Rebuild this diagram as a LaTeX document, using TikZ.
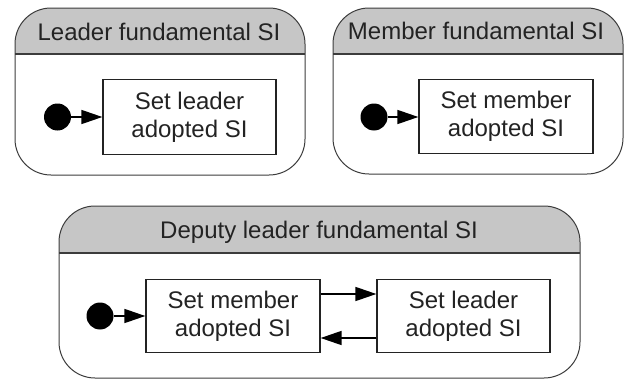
\documentclass[tikz,border=0pt]{standalone}
\usepackage{fontspec}
\setmainfont{Liberation Sans}
\usetikzlibrary{arrows.meta}
\definecolor{hdr}{RGB}{198,198,198}
\definecolor{edge}{RGB}{60,60,60}
\definecolor{ink}{RGB}{35,35,35}
\tikzset{
  container/.style={draw=edge, line width=1pt, rounded corners=36pt, inner sep=0pt},
  header/.style={path picture={\fill[hdr, sharp corners] (path picture bounding box.north west) rectangle ([yshift=-#1]path picture bounding box.north east);
     \draw[edge, line width=1.4pt, sharp corners] ([yshift=-#1]path picture bounding box.north west) -- ([yshift=-#1]path picture bounding box.north east);}},
  statebox/.style={draw=ink, line width=1.3pt, fill=white, inner sep=0pt, align=center,
    font=\fontsize{24}{28}\selectfont, text=ink},
  titletext/.style={font=\fontsize{24}{28}\selectfont, text=ink, inner sep=0pt, anchor=base},
  initdot/.style={circle, fill=black, minimum size=27pt, inner sep=0pt},
  trans/.style={line width=1.6pt, draw=black, -{Triangle[length=21pt,width=14pt]}},
}
\begin{document}
\begin{tikzpicture}[x=1pt,y=-1pt]
\useasboundingbox (0,0) rectangle (625,380);
% containers
\node[container, header=46pt, minimum width=290pt, minimum height=167pt] (c1) at (160,91.5) {};
\node[container, header=46pt, minimum width=290pt, minimum height=166pt] (c2) at (478,91) {};
\node[container, header=47pt, minimum width=521pt, minimum height=172pt] (c3) at (319.5,292) {};
% titles
\node[titletext] (t1) at (159,40) {Leader fundamental SI};
\node[titletext] (t2) at (476,39) {Member fundamental SI};
\node[titletext] (t3) at (319,238) {Deputy leader fundamental SI};
% states
\node[statebox, minimum width=173pt, minimum height=75pt] (s1) at (189.5,117) {Set leader\\adopted SI};
\node[statebox, minimum width=174pt, minimum height=74pt] (s2) at (506,116.5) {Set member\\adopted SI};
\node[statebox, minimum width=174pt, minimum height=73pt] (s3) at (233,316) {Set member\\adopted SI};
\node[statebox, minimum width=173pt, minimum height=73pt] (s4) at (463.5,316) {Set leader\\adopted SI};
% initial dots
\node[initdot] (i1) at (57.5,117) {};
\node[initdot] (i2) at (374,117) {};
\node[initdot] (i3) at (100,316) {};
% transitions
\draw[trans] (i1.east) -- (s1.west |- i1.east);
\draw[trans] (i2.east) -- (s2.west |- i2.east);
\draw[trans] (i3.east) -- (s3.west |- i3.east);
\coordinate (u1) at (320,294);
\draw[trans] (s3.east |- u1) -- (s4.west |- u1);
\coordinate (d1) at (377,338);
\draw[trans] (s4.west |- d1) -- (s3.east |- d1);
\end{tikzpicture}
\end{document}
